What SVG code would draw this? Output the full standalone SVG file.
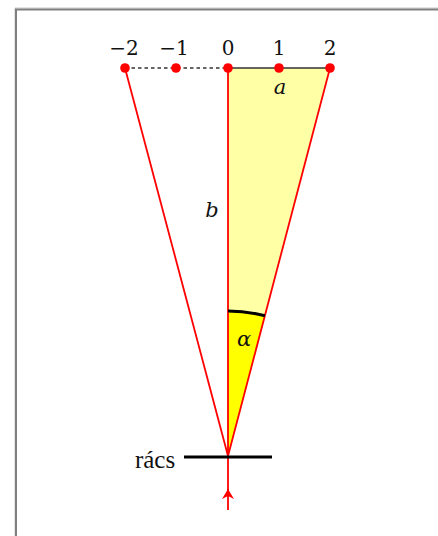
<svg xmlns="http://www.w3.org/2000/svg" width="438" height="536" viewBox="0 0 438 536">
<defs>
<style>
.red{stroke:#ff0000;stroke-width:1.8;fill:none}
.dot{fill:#ff0000}
.num{font-family:"DejaVu Serif","Liberation Serif",serif;font-size:20px;text-anchor:middle;fill:#111}
.it{font-family:"DejaVu Serif","Liberation Serif",serif;font-style:italic;font-size:21px;text-anchor:middle;fill:#111}
</style>
<marker id="ah" viewBox="0 0 10 12" refX="10" refY="6" markerWidth="12" markerHeight="12" markerUnits="userSpaceOnUse" orient="auto">
<path d="M0,0 L10,6 L0,12 L3,6 z" fill="#ff0000"/>
</marker>
</defs>
<rect width="438" height="536" fill="#ffffff"/>
<g id="frame">
<path d="M15,540 V8 H440" fill="none" stroke="#c8c8c8" stroke-width="1"/>
<path d="M16,540 V9.5 H440" fill="none" stroke="#808080" stroke-width="2"/>
</g>
<g id="fills">
<polygon points="228,68 330,68 228,456" fill="#ffffa6"/>
<path d="M228,456 L228,311 A145,145 0 0 1 264.9,315.8 Z" fill="#ffff00"/>
</g>
<g id="connectors">
<line x1="125" y1="68" x2="228" y2="68" stroke="#333" stroke-width="1.5" stroke-dasharray="3.5,3"/>
<line x1="228" y1="68" x2="330" y2="68" stroke="#333" stroke-width="1.6"/>
<line class="red" x1="125" y1="68" x2="228" y2="456"/>
<line class="red" x1="330" y1="68" x2="228" y2="456"/>
<line class="red" x1="228" y1="68" x2="228" y2="456"/>
<line class="red" x1="228" y1="510" x2="228" y2="489" marker-end="url(#ah)"/>
<line class="red" x1="228" y1="492" x2="228" y2="456"/>
<path d="M228,311 A145,145 0 0 1 264.9,315.8" fill="none" stroke="#000" stroke-width="3"/>
</g>
<g id="grating">
<line x1="184" y1="457" x2="272" y2="457" stroke="#000" stroke-width="3"/>
<text x="155" y="468" font-family="'Liberation Serif',serif" font-size="25" text-anchor="middle" fill="#111">rács</text>
</g>
<g id="points">
<circle class="dot" cx="125" cy="68" r="4.8"/>
<circle class="dot" cx="176" cy="68" r="4.8"/>
<circle class="dot" cx="228" cy="68" r="4.8"/>
<circle class="dot" cx="279" cy="68" r="4.8"/>
<circle class="dot" cx="330" cy="68" r="4.8"/>
</g>
<g id="labels">
<text class="num" x="124" y="55">−2</text>
<text class="num" x="174" y="55">−1</text>
<text class="num" x="228" y="55">0</text>
<text class="num" x="279" y="55">1</text>
<text class="num" x="330" y="55">2</text>
<text class="it" x="280" y="94">a</text>
<text class="it" x="212" y="217">b</text>
<text class="it" x="244" y="346">α</text>
</g>
</svg>
